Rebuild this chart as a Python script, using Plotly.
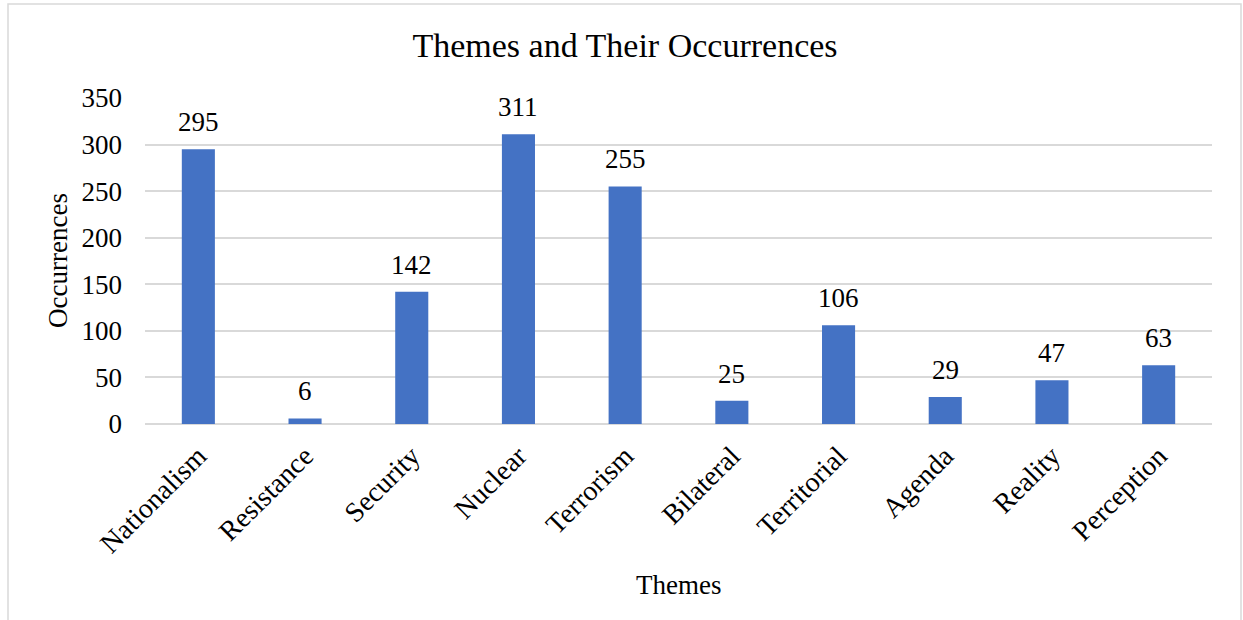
import plotly.graph_objects as go

# Theme counts
themes = ["Nationalism", "Resistance", "Security", "Nuclear", "Terrorism",
          "Bilateral", "Territorial", "Agenda", "Reality", "Perception"]
occurrences = [295, 6, 142, 311, 255, 25, 106, 29, 47, 63]
y_ticks = [0, 50, 100, 150, 200, 250, 300, 350]

FONT = "Liberation Serif, Times New Roman, serif"
BAR_COLOR = "#4472C4"
GRID_COLOR = "#D9D9D9"

W, H = 1243, 620
ML, MR, MT, MB = 145, 31, 98, 196

fig = go.Figure()
fig.add_trace(go.Bar(
    x=themes,
    y=occurrences,
    marker=dict(color=BAR_COLOR, line=dict(width=0)),
    hoverinfo="x+y",
))

# value labels above each bar
for name, val in zip(themes, occurrences):
    fig.add_annotation(
        x=name, y=val, text=str(val), showarrow=False,
        xref="x", yref="y", yanchor="bottom", yshift=10,
        font=dict(family=FONT, size=27, color="#000000"),
    )

# axis titles
fig.add_annotation(
    text="Themes", xref="paper", yref="paper", x=0.5,
    y=-(585 - (H - MB)) / (H - MT - MB), yanchor="middle",
    showarrow=False, font=dict(family=FONT, size=27, color="#000000"),
)
fig.add_annotation(
    text="Occurrences", xref="paper", yref="paper",
    x=-(ML - 58) / (W - ML - MR), xanchor="center",
    y=0.5, yanchor="middle", textangle=-90,
    showarrow=False, font=dict(family=FONT, size=27, color="#000000"),
)

# outer chart frame
pw, ph = W - ML - MR, H - MT - MB
fig.add_shape(
    type="rect", xref="paper", yref="paper",
    x0=(8 - ML) / pw, x1=(1241 - ML) / pw,
    y0=-(H + 5 - (H - MB)) / ph, y1=(H - MB - 4) / ph,
    line=dict(color=GRID_COLOR, width=1.5), fillcolor="rgba(0,0,0,0)",
    layer="below",
)

fig.update_layout(
    width=W, height=H,
    margin=dict(l=ML, r=MR, t=MT, b=MB),
    paper_bgcolor="white", plot_bgcolor="white",
    showlegend=False,
    bargap=0.69,
    title=dict(
        text="Themes and Their Occurrences",
        x=625 / W, xref="container", xanchor="center",
        y=1 - 45 / H, yref="container", yanchor="middle",
        font=dict(family=FONT, size=34, color="#000000"),
    ),
    font=dict(family=FONT, size=27, color="#000000"),
)

fig.update_xaxes(
    tickangle=-45,
    tickfont=dict(family=FONT, size=28, color="#000000"),
    showline=False, showgrid=False, ticks="", ticklabelstandoff=9,
)
fig.update_yaxes(
    range=[0, 350],
    tickvals=y_ticks,
    tickfont=dict(family=FONT, size=27, color="#000000"),
    showgrid=True, gridcolor=GRID_COLOR, gridwidth=1.5,
    zeroline=True, zerolinecolor=GRID_COLOR, zerolinewidth=1.5,
    showline=False, ticks="", ticklabelstandoff=22,
)

fig.write_html("out.html")
